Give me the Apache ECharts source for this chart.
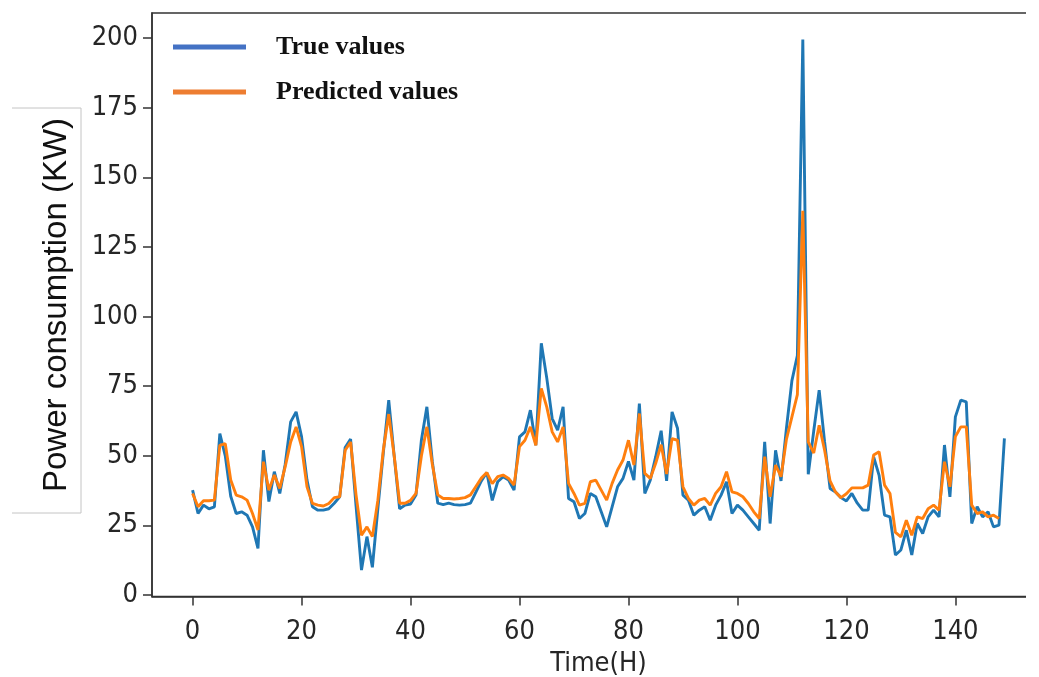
<!DOCTYPE html>
<html>
<head>
<meta charset="utf-8">
<script src="https://cdn.jsdelivr.net/npm/echarts@6/dist/echarts.min.js"></script>
<style>
  html, body { margin: 0; padding: 0; background: #fff; }
  #main { width: 1039px; height: 677px; }
</style>
</head>
<body>
<div id="main"></div>
<script>
// values, hour index = position in array
var trueValues = [
  37.7, 29.3, 32.3, 31, 31.7, 58, 50, 35.5, 29.3, 29.9,
  28.7, 24.5, 16.8, 52, 33.6, 44.3, 36.5, 47, 62.2, 65.8,
  56.9, 41.3, 31.7, 30.5, 30.5, 31, 33, 35.3, 53, 56,
  32, 9, 21, 10, 31, 51, 70, 50, 31, 32.3,
  32.7, 35.9, 55.7, 67.6, 48, 33, 32.5, 33, 32.5, 32.3,
  32.5, 33, 37, 41, 44, 34, 40.7, 42.5, 41.3, 37.7,
  56.8, 58.6, 66.4, 53.8, 90.4, 78, 63.4, 59.2, 67.6, 34.7,
  33.5, 27.5, 29.3, 36.5, 35.3, 29.9, 24.5, 31.7, 38.9, 41.9,
  48, 41.3, 68.8, 36.5, 41.3, 49.7, 59, 41, 65.8, 59.9,
  35.9, 34.1, 28.7, 30.5, 31.7, 26.9, 32.3, 35.9, 40.7, 29.3,
  32.3, 30.5, 28.1, 25.7, 23.3, 55, 25.7, 52, 41, 60,
  77, 86, 199.5, 43.4, 58.9, 73.6, 55, 38.3, 37, 35,
  33.8, 36.5, 33, 30.5, 30.5, 49.6, 43, 28.7, 28.1, 14.4,
  16.2, 23.3, 14.4, 25.7, 22.1, 28.1, 30.5, 28.1, 53.9, 35.3,
  64, 70, 69.4, 25.7, 31.7, 28.1, 29.9, 24.5, 25.1, 56.3
];
var predictedValues = [
  36.5, 31.7, 33.9, 33.9, 34.1, 53.8, 54.4, 41.3, 35.9, 35.3,
  34.1, 29.3, 23.4, 47.9, 37.7, 43.1, 38.3, 46.1, 55, 60.4,
  53.3, 38.9, 32.9, 32.3, 32, 32.9, 35, 35.3, 52, 55,
  36, 21.5, 24.5, 21, 34, 52, 65, 50, 33, 33,
  34, 36.5, 50, 60.4, 47, 36, 34.7, 34.7, 34.5, 34.7,
  35, 36, 39, 42, 44, 40, 42.5, 43.1, 41.9, 39.5,
  53.3, 55.6, 60.4, 53.8, 74.2, 67.6, 58.6, 55, 60.4, 40.1,
  36.5, 32.3, 32.9, 40.7, 41.3, 37.7, 34.1, 40.1, 44.9, 48.5,
  55.6, 46.7, 65.2, 43.7, 41.9, 47.3, 54, 43.5, 56.2, 55.6,
  38.9, 34.7, 32.3, 34.1, 34.7, 32.3, 36.5, 38.9, 44.3, 37.1,
  36.5, 35.3, 32.9, 29.9, 27.5, 49.7, 35.3, 46.7, 42.5, 56,
  64, 72, 138, 55, 51, 61, 52, 41, 37, 35,
  36.4, 38.5, 38.5, 38.5, 39.5, 50.3, 51.5, 39.5, 36.5, 22.5,
  20.9, 26.9, 21.5, 28.1, 27.5, 31, 32.3, 30.5, 47.9, 38.9,
  56.9, 60.4, 60.4, 32.3, 29.3, 29.9, 28.1, 28.7, 27.5
];
var xTicks = [0, 20, 40, 60, 80, 100, 120, 140];
var yTicks = [0, 25, 50, 75, 100, 125, 150, 175, 200];

var tickFont = "'DejaVu Sans Condensed', 'DejaVu Sans', sans-serif";

function toPairs(arr) {
    var out = [];
    for (var i = 0; i < arr.length; i++) {
        out.push([i, arr[i]]);
    }
    return out;
}

var myChart = echarts.init(document.getElementById('main'), null, {renderer: 'canvas'});

myChart.setOption({
    animation: false,
    backgroundColor: '#fff',
    grid: {
        left: 152,
        top: 13,
        width: 893,
        height: 583.5,
        outerBoundsMode: 'none',
        show: true,
        borderColor: '#333',
        borderWidth: 1.5
    },
    legend: {
        orient: 'vertical',
        left: 173,
        top: 34,
        padding: 0,
        itemWidth: 73,
        itemHeight: 5,
        itemGap: 19,
        icon: 'rect',
        textStyle: {
            fontFamily: "'Liberation Serif', serif",
            fontWeight: 'bold',
            fontSize: 26,
            color: '#111',
            padding: [0, 0, 0, 25]
        },
        data: [
            {name: 'True values', itemStyle: {color: '#4472c4'}},
            {name: 'Predicted values', itemStyle: {color: '#ed7d31'}}
        ]
    },
    xAxis: {
        type: 'value',
        min: -7.45,
        max: 156.45,
        name: 'Time(H)',
        nameLocation: 'middle',
        nameGap: 54,
        nameTextStyle: {fontFamily: tickFont, fontSize: 27, color: '#262626'},
        axisLine: {show: true, onZero: false, lineStyle: {color: '#333', width: 1.5}},
        axisTick: {show: true, length: 9, lineStyle: {color: '#333', width: 1.5}, customValues: xTicks},
        axisLabel: {fontFamily: tickFont, fontSize: 27, color: '#262626', margin: 22, customValues: xTicks},
        splitLine: {show: false}
    },
    yAxis: {
        type: 'value',
        min: -0.5,
        max: 209,
        axisLine: {show: true, onZero: false, lineStyle: {color: '#333', width: 1.5}},
        axisTick: {show: true, length: 9, lineStyle: {color: '#333', width: 1.5}, customValues: yTicks},
        axisLabel: {fontFamily: tickFont, fontSize: 27, color: '#262626', margin: 14, customValues: yTicks},
        splitLine: {show: false}
    },
    series: [
        {
            name: 'True values',
            type: 'line',
            data: toPairs(trueValues),
            symbol: 'none',
            color: '#1f77b4',
            lineStyle: {color: '#1f77b4', width: 2.9}
        },
        {
            name: 'Predicted values',
            type: 'line',
            data: toPairs(predictedValues),
            symbol: 'none',
            color: '#ff7f0e',
            lineStyle: {color: '#ff7f0e', width: 2.9}
        }
    ],
    graphic: [
        // the reference is cropped just past the last point
        {type: 'rect', z: 100, shape: {x: 1026, y: 0, width: 13, height: 677}, style: {fill: '#fff'}},
        // pasted label box (top, right and bottom edges only)
        {type: 'line', shape: {x1: 12, y1: 108, x2: 81, y2: 108}, style: {stroke: '#c4c4c4', lineWidth: 1}},
        {type: 'line', shape: {x1: 81, y1: 108, x2: 81, y2: 513}, style: {stroke: '#c4c4c4', lineWidth: 1}},
        {type: 'line', shape: {x1: 12, y1: 513, x2: 81, y2: 513}, style: {stroke: '#c4c4c4', lineWidth: 1}},
        {
            type: 'text',
            x: 57,
            y: 305,
            rotation: Math.PI / 2,
            style: {
                text: 'Power consumption (KW)',
                fontFamily: "'Liberation Sans', Arial, sans-serif",
                fontSize: 33,
                fill: '#111',
                align: 'center',
                verticalAlign: 'middle'
            }
        }
    ]
});
</script>
</body>
</html>
